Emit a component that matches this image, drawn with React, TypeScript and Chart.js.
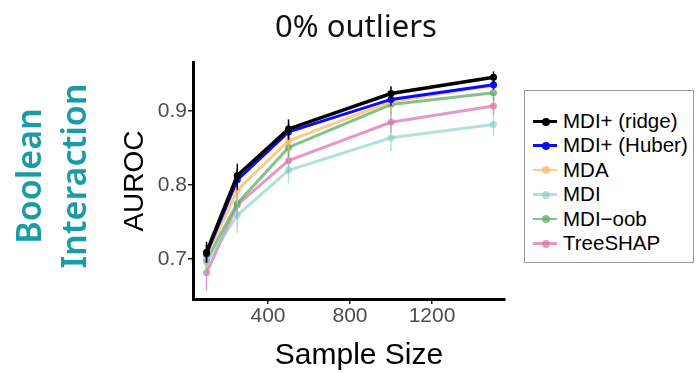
import React, { useEffect, useRef } from "react";
import { Chart, registerables } from "chart.js";

Chart.register(...registerables);

const sampleSizes = [100, 250, 500, 1000, 1500];
const xTicks = [400, 800, 1200];
const yTicks = [0.7, 0.8, 0.9];

const ridge = [0.709, 0.813, 0.876, 0.924, 0.946];
const huber = [0.707, 0.807, 0.872, 0.916, 0.936];
const mda = [0.703, 0.793, 0.86, 0.913, 0.935];
const mdi = [0.695, 0.759, 0.82, 0.864, 0.882];
const mdiOob = [0.698, 0.775, 0.851, 0.909, 0.925];
const treeshap = [0.681, 0.773, 0.833, 0.885, 0.907];

const ridgeErr = [0.014, 0.016, 0.013, 0.01, 0.008];
const huberErr = [0.012, 0.014, 0.011, 0.009, 0.007];
const mdaErr = [0.015, 0.018, 0.014, 0.011, 0.01];
const mdiErr = [0.02, 0.024, 0.018, 0.018, 0.015];
const mdiOobErr = [0.015, 0.018, 0.014, 0.011, 0.01];
const treeshapErr = [0.024, 0.02, 0.016, 0.014, 0.012];

const seriesNames = ["MDI+ (ridge)", "MDI+ (Huber)", "MDA", "MDI", "MDI\u2212oob", "TreeSHAP"];
const seriesValues = [ridge, huber, mda, mdi, mdiOob, treeshap];
const seriesErrors = [ridgeErr, huberErr, mdaErr, mdiErr, mdiOobErr, treeshapErr];
const seriesColors = [
  "rgba(0,0,0,1)",
  "rgba(10,10,255,1)",
  "rgba(253,184,99,0.75)",
  "rgba(128,205,193,0.6)",
  "rgba(90,174,97,0.75)",
  "rgba(222,119,174,0.75)",
];
const seriesWidths = [3.5, 3, 3, 3, 3, 3];

const errorBars = {
  id: "errorBars",
  beforeDatasetDraw(chart: any, args: any) {
    const ds = chart.data.datasets[args.index];
    const errs = ds.errors as number[];
    if (!errs) return;
    const ctx = chart.ctx;
    const ys = chart.scales.y;
    const xs = chart.scales.x;
    ctx.save();
    ctx.strokeStyle = ds.borderColor;
    ctx.lineWidth = 1.5;
    ds.data.forEach((p: any, i: number) => {
      const x = xs.getPixelForValue(p.x);
      ctx.beginPath();
      ctx.moveTo(x, ys.getPixelForValue(p.y - errs[i]));
      ctx.lineTo(x, ys.getPixelForValue(p.y + errs[i]));
      ctx.stroke();
    });
    ctx.restore();
  },
};

export default function App() {
  const ref = useRef<HTMLCanvasElement>(null);

  useEffect(() => {
    if (!ref.current) return;
    const datasets = seriesNames.map((name, k) => ({
      label: name,
      data: sampleSizes.map((s, i) => ({ x: s, y: seriesValues[k][i] })),
      errors: seriesErrors[k],
      borderColor: seriesColors[k],
      backgroundColor: seriesColors[k],
      pointBackgroundColor: seriesColors[k],
      pointBorderColor: seriesColors[k],
      pointRadius: 3.5,
      pointBorderWidth: 0,
      borderWidth: seriesWidths[k],
      tension: 0,
    }));
    const chart = new Chart(ref.current, {
      type: "line",
      data: { datasets } as any,
      plugins: [errorBars],
      options: {
        animation: false,
        responsive: false,
        devicePixelRatio: 1,
        layout: { padding: { left: 100, top: 62, right: 191, bottom: 0 } },
        plugins: { legend: { display: false }, tooltip: { enabled: false } },
        scales: {
          x: {
            type: "linear",
            min: 34,
            max: 1556,
            afterBuildTicks: (s: any) => {
              s.ticks = xTicks.map((v) => ({ value: v }));
            },
            afterFit: (s: any) => {
              s.height = 74;
            },
            ticks: {
              color: "#4d4d4d",
              font: { family: "Liberation Sans", size: 21 },
              padding: 0,
              maxRotation: 0,
              callback: (v: any) => String(v),
            },
            grid: { drawOnChartArea: false, drawTicks: true, tickLength: 5, color: "#222", lineWidth: 1.5 },
            border: { color: "#000", width: 3 },
          },
          y: {
            type: "linear",
            min: 0.6456,
            max: 0.9667,
            afterBuildTicks: (s: any) => {
              s.ticks = yTicks.map((v) => ({ value: v }));
            },
            afterFit: (s: any) => {
              s.width = 93;
            },
            ticks: {
              color: "#4d4d4d",
              font: { family: "Liberation Sans", size: 21 },
              padding: 1,
              callback: (v: any) => Number(v).toFixed(1),
            },
            grid: { drawOnChartArea: false, drawTicks: true, tickLength: 5, color: "#222", lineWidth: 1.5 },
            border: { color: "#000", width: 3 },
          },
        },
      } as any,
    });
    return () => chart.destroy();
  }, []);

  const abs = (extra: React.CSSProperties): React.CSSProperties => ({
    position: "absolute",
    whiteSpace: "nowrap",
    ...extra,
  });

  return (
    <div style={{ position: "fixed", left: 0, top: 0, width: 696, height: 373, background: "#fff", overflow: "hidden" }}>
      <canvas ref={ref} width={696} height={373} style={{ position: "absolute", left: 0, top: 0, width: 696, height: 373 }} />
      <div
        style={abs({
          left: 356,
          top: 25,
          transform: "translate(-50%,-50%)",
          fontFamily: "Noto Sans",
          fontSize: 31,
          color: "#111",
        })}
      >
        0% outliers
      </div>
      <div
        style={abs({
          left: 28,
          top: 176,
          transform: "translate(-50%,-50%) rotate(-90deg)",
          fontFamily: "Noto Sans",
          fontWeight: 600,
          fontSize: 34,
          color: "#1a9ba6",
        })}
      >
        Boolean
      </div>
      <div
        style={abs({
          left: 73,
          top: 176,
          transform: "translate(-50%,-50%) rotate(-90deg)",
          fontFamily: "Noto Sans",
          fontWeight: 600,
          fontSize: 34,
          color: "#1a9ba6",
        })}
      >
        Interaction
      </div>
      <div
        style={abs({
          left: 134,
          top: 181,
          transform: "translate(-50%,-50%) rotate(-90deg)",
          fontFamily: "Liberation Sans",
          fontSize: 28,
          color: "#000",
        })}
      >
        AUROC
      </div>
      <div
        style={abs({
          left: 359,
          top: 354,
          transform: "translate(-50%,-50%)",
          fontFamily: "Liberation Sans",
          fontSize: 30,
          color: "#000",
        })}
      >
        Sample Size
      </div>
      <div
        style={abs({
          left: 524,
          top: 90,
          width: 168,
          height: 171,
          border: "1.5px solid #9a9a9a",
          background: "#fff",
        })}
      >
        {seriesNames.map((name, k) => (
          <div key={name} style={abs({ left: 0, top: 30 + k * 24.4 - 11, height: 22, width: 168 })}>
            <div
              style={abs({
                left: 8,
                top: 10,
                width: 24,
                height: 2.5,
                background: seriesColors[k],
              })}
            />
            <div
              style={abs({
                left: 16.5,
                top: 7.5,
                width: 8,
                height: 8,
                borderRadius: "50%",
                background: seriesColors[k],
              })}
            />
            <div
              style={abs({
                left: 38,
                top: 0,
                lineHeight: "22px",
                fontFamily: "Liberation Sans",
                fontSize: 20.5,
                color: "#000",
              })}
            >
              {name}
            </div>
          </div>
        ))}
      </div>
    </div>
  );
}
